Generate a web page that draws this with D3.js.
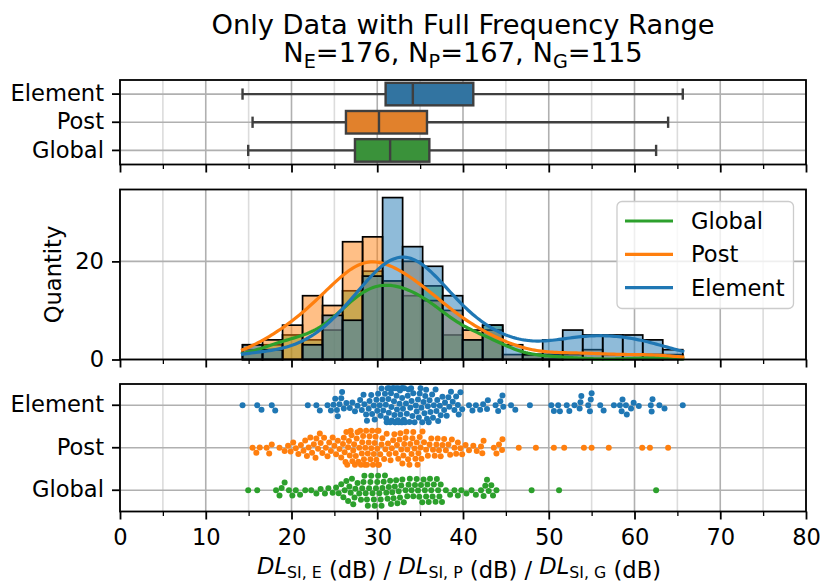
<!DOCTYPE html>
<html><head><meta charset="utf-8">
<script src="https://cdn.jsdelivr.net/npm/d3@7"></script>
<style>
body{margin:0;background:#fff}
svg{display:block}
text{font-family:"DejaVu Sans",sans-serif;fill:#000}
</style>
</head><body>
<svg id="c" width="823" height="583"></svg>
<script>
// ---------------- data ----------------
const categories = ["Element", "Post", "Global"];
const legendOrder = ["Global", "Post", "Element"];
const elementValues = [
  14.29, 16.0, 16.5,
  17.7, 18.1,
  21.9, 22.9, 23.3,
  24.2, 24.6, 24.9, 25.1, 25.3, 25.4, 25.6, 25.8, 25.9,
  26.1, 26.4, 26.8, 27.1, 27.4, 27.7, 28.0, 28.2,
  28.4, 28.5, 28.7, 28.8, 29.0, 29.1, 29.3, 29.4, 29.6, 29.7, 29.9, 30.0, 30.1, 30.3, 30.4, 30.5, 30.6,
  30.7, 30.9, 31.0, 31.05, 31.1, 31.2, 31.3, 31.35, 31.4, 31.5, 31.6, 31.65, 31.7, 31.8, 31.9, 31.95,
  32.0, 32.05, 32.1, 32.2, 32.25, 32.3, 32.4, 32.45, 32.5, 32.6, 32.65, 32.7, 32.8, 32.85, 32.9, 32.93, 32.95,
  33.0, 33.1, 33.15, 33.25, 33.35, 33.45, 33.55, 33.65, 33.75, 33.85, 33.95,
  34.0, 34.1, 34.2, 34.35, 34.5, 34.6, 34.75, 34.85, 34.95, 35.05, 35.15, 35.25,
  35.4, 35.5, 35.6, 35.7, 35.8, 35.9, 36.0, 36.1, 36.2, 36.4, 36.5, 36.6, 36.8, 36.9, 37.0, 37.1, 37.3, 37.4, 37.6,
  37.8, 37.9, 38.1, 38.3, 38.4, 38.6, 38.8, 39.0, 39.2, 39.4, 39.5, 39.7, 39.9,
  40.7, 41.1, 41.5, 42.0,
  42.35, 42.8, 42.9, 43.8, 44.1, 44.35, 44.6,
  44.7, 45.6, 46.1,
  47.8,
  50.3, 50.6, 51.1, 51.3,
  52.1, 52.4, 53.0, 53.6, 53.7, 53.8,
  54.6, 54.8, 54.9, 55.0, 56.0,
  56.4, 57.6, 58.3, 58.5, 58.6,
  59.0, 59.1, 59.6, 59.9, 60.5,
  61.9, 62.0, 62.1, 62.9,
  63.5, 65.63
];
const postValues = [
  15.46, 15.9, 16.3,
  17.1, 17.4, 17.7, 18.6,
  19.2, 19.6, 19.9, 20.2, 20.5, 20.8, 21.1,
  21.4, 21.6, 21.8, 22.0, 22.2, 22.4, 22.6, 22.8, 22.9, 23.1, 23.3, 23.4, 23.6,
  23.8, 24.0, 24.2, 24.4, 24.6, 24.8, 25.0, 25.2, 25.4, 25.6, 25.8,
  26.0, 26.1, 26.2, 26.3, 26.4, 26.5, 26.6, 26.7, 26.8, 26.9, 27.0, 27.1, 27.2, 27.3, 27.4, 27.5, 27.6, 27.7, 27.8, 27.9, 28.0, 28.1, 28.2, 28.25,
  28.35, 28.45, 28.55, 28.6, 28.7, 28.8, 28.9, 29.0, 29.1, 29.2, 29.3, 29.4, 29.5, 29.6, 29.7, 29.8, 29.9, 30.0, 30.05, 30.1, 30.15, 30.2, 30.35, 30.5, 30.6,
  30.8, 30.95, 31.1, 31.25, 31.4, 31.55, 31.7, 31.85, 32.0, 32.15, 32.3, 32.45, 32.6, 32.7, 32.8, 32.93,
  33.05, 33.15, 33.3, 33.4, 33.5, 33.6, 33.75, 33.85, 34.0, 34.1, 34.2, 34.35, 34.45, 34.6, 34.7, 34.8, 34.95, 35.05, 35.15, 35.28,
  35.45, 35.7, 35.9, 36.1, 36.3, 36.5, 36.7, 36.9, 37.05, 37.2, 37.4, 37.6,
  37.8, 38.0, 38.3, 38.5, 38.7, 39.0, 39.2, 39.4, 39.7, 39.9,
  40.3, 40.7, 41.2, 41.6, 42.1, 42.25,
  42.4, 43.6, 43.9, 44.2, 44.55, 44.6,
  46.5, 48.5, 50.6, 51.8, 54.1, 55.0, 57.0, 60.9, 61.8, 63.92
];
const globalValues = [
  14.95, 16.0,
  18.2, 18.6, 18.85,
  19.2, 19.7, 20.1, 20.5, 21.0,
  21.6, 22.3, 22.9, 23.4,
  23.9, 24.3, 24.8, 25.2, 25.5, 25.8,
  26.05, 26.2, 26.4, 26.6, 26.75, 26.9, 27.05, 27.2, 27.35, 27.45, 27.7, 27.9, 28.1, 28.25,
  28.4, 28.5, 28.65, 28.8, 28.9, 29.05, 29.2, 29.3, 29.45, 29.6, 29.7, 29.85, 30.0, 30.1, 30.25, 30.4, 30.5, 30.6,
  30.75, 30.9, 31.05, 31.2, 31.35, 31.5, 31.6, 31.75, 31.9, 32.05, 32.2, 32.35, 32.5, 32.65, 32.8, 32.93,
  33.1, 33.3, 33.5, 33.65, 33.8, 34.0, 34.2, 34.4, 34.6, 34.75, 34.9, 35.1, 35.25,
  35.4, 35.55, 35.7, 35.85, 36.0, 36.15, 36.3, 36.45, 36.6, 36.8, 36.95, 37.1, 37.25, 37.4, 37.55,
  38.0, 38.5, 39.0, 39.4, 39.8,
  40.4, 41.0, 41.5, 42.1,
  42.4, 42.6, 42.8, 43.0, 43.3, 43.5, 43.9,
  48.0, 51.2, 62.52
];
const xMajorTicks = [0, 10, 20, 30, 40, 50, 60, 70, 80];
const xMinorTicks = [5, 15, 25, 35, 45, 55, 65, 75];
const countTicks = [0, 20];
const binCount = 22;

// ---------------- setup ----------------
const seriesValues = { Element: elementValues, Post: postValues, Global: globalValues };
const lineColor = { Element: "#1f77b4", Post: "#ff7f0e", Global: "#2ca02c" };
const boxColor = { Element: "#3274a1", Post: "#e1812c", Global: "#3a923a" };
const FONT = 22.6;

const svg = d3.select("#c");
const x = d3.scaleLinear().domain([0, 80]).range([120, 806]);
const P1 = { top: 80, bottom: 164.5 };
const P2 = { top: 189.5, bottom: 359.5 };
const P3 = { top: 384, bottom: 511.5 };

function vGrid(p) {
  const g = svg.append("g");
  g.selectAll("line.mn").data(xMinorTicks).join("line").attr("class", "mn")
    .attr("x1", d => x(d)).attr("x2", d => x(d)).attr("y1", p.top).attr("y2", p.bottom)
    .attr("stroke", "#dcdcdc").attr("stroke-width", 1.6);
  g.selectAll("line.mj").data(xMajorTicks).join("line").attr("class", "mj")
    .attr("x1", d => x(d)).attr("x2", d => x(d)).attr("y1", p.top).attr("y2", p.bottom)
    .attr("stroke", "#b0b0b0").attr("stroke-width", 1.6);
}
function hGrid(ys) {
  svg.append("g").selectAll("line").data(ys).join("line")
    .attr("x1", x(0)).attr("x2", x(80)).attr("y1", d => d).attr("y2", d => d)
    .attr("stroke", "#b0b0b0").attr("stroke-width", 1.6);
}
function styleAxis(g, w) {
  g.attr("font-size", FONT).attr("font-family", "DejaVu Sans, sans-serif").attr("color", "#000");
  g.select(".domain").remove();
  g.selectAll(".tick line").attr("stroke-width", w);
}
function xAxes(p, labels) {
  const mn = svg.append("g").attr("transform", `translate(0,${p.bottom})`)
    .call(d3.axisBottom(x).tickValues(xMinorTicks).tickSize(4.5).tickFormat(""));
  styleAxis(mn, 1.3);
  const mj = svg.append("g").attr("transform", `translate(0,${p.bottom})`)
    .call(d3.axisBottom(x).tickValues(xMajorTicks).tickSize(8).tickPadding(9)
      .tickFormat(labels ? d3.format("d") : ""));
  styleAxis(mj, 1.8);
}
function frame(p) {
  svg.append("rect").attr("x", x(0)).attr("y", p.top).attr("width", x(80) - x(0))
    .attr("height", p.bottom - p.top).attr("fill", "none").attr("stroke", "#000").attr("stroke-width", 1.8);
}

// ---------------- title ----------------
svg.append("text").attr("x", 463).attr("y", 34).attr("text-anchor", "middle").attr("font-size", 27.3)
  .text("Only Data with Full Frequency Range");
const t2 = svg.append("text").attr("x", 463).attr("y", 62).attr("text-anchor", "middle").attr("font-size", 27.3);
[["N", ""], ["E", "s"], ["=176, N", ""], ["P", "s"], ["=167, N", ""], ["G", "s"], ["=115", ""]].forEach(([s, k], i, arr) => {
  const prevSub = i > 0 && arr[i - 1][1] === "s";
  const ts = t2.append("tspan").text(s);
  if (k === "s") ts.attr("font-size", 19.2).attr("dy", 6);
  else if (prevSub) ts.attr("dy", -6);
});

// ---------------- panel 1: box plot ----------------
const yBox = d3.scaleBand().domain(categories).range([P1.top, P1.bottom]);
const bw1 = yBox.bandwidth();
vGrid(P1);
hGrid(categories.map(c => yBox(c) + bw1 / 2));
const boxStats = categories.map(c => {
  const v = seriesValues[c].slice().sort(d3.ascending);
  return { c, min: v[0], q1: d3.quantile(v, 0.25), med: d3.quantile(v, 0.5), q3: d3.quantile(v, 0.75), max: v[v.length - 1] };
});
const bg = svg.append("g").selectAll("g").data(boxStats).join("g");
const GREY = "#3f3f3f";
bg.each(function (d) {
  const g = d3.select(this), cy = yBox(d.c) + bw1 / 2, hb = bw1 * 0.4, hc = bw1 * 0.2;
  g.append("line").attr("x1", x(d.min)).attr("x2", x(d.q1)).attr("y1", cy).attr("y2", cy).attr("stroke", GREY).attr("stroke-width", 2.4);
  g.append("line").attr("x1", x(d.q3)).attr("x2", x(d.max)).attr("y1", cy).attr("y2", cy).attr("stroke", GREY).attr("stroke-width", 2.4);
  g.append("line").attr("x1", x(d.min)).attr("x2", x(d.min)).attr("y1", cy - hc).attr("y2", cy + hc).attr("stroke", GREY).attr("stroke-width", 2.4);
  g.append("line").attr("x1", x(d.max)).attr("x2", x(d.max)).attr("y1", cy - hc).attr("y2", cy + hc).attr("stroke", GREY).attr("stroke-width", 2.4);
  g.append("rect").attr("x", x(d.q1)).attr("y", cy - hb).attr("width", x(d.q3) - x(d.q1)).attr("height", 2 * hb)
    .attr("fill", boxColor[d.c]).attr("stroke", GREY).attr("stroke-width", 2.4);
  g.append("line").attr("x1", x(d.med)).attr("x2", x(d.med)).attr("y1", cy - hb).attr("y2", cy + hb).attr("stroke", GREY).attr("stroke-width", 2.4);
});
xAxes(P1, false);
const ya1 = svg.append("g").attr("transform", `translate(${x(0)},0)`).call(d3.axisLeft(yBox).tickSize(8).tickPadding(8));
styleAxis(ya1, 1.8);
frame(P1);

// ---------------- panel 2: histogram + KDE ----------------
const allValues = elementValues.concat(postValues, globalValues);
const [vmin, vmax] = d3.extent(allValues);
const binW = (vmax - vmin) / binCount;
const thresholds = d3.range(1, binCount).map(i => vmin + i * binW);
const binner = d3.bin().domain([vmin, vmax]).thresholds(thresholds);
const hists = {};
categories.forEach(c => hists[c] = binner(seriesValues[c]));
const maxCount = d3.max(categories, c => d3.max(hists[c], b => b.length));
const yCount = d3.scaleLinear().domain([0, maxCount * 1.05]).range([P2.bottom, P2.top]);

vGrid(P2);
hGrid(countTicks.map(yCount));
legendOrder.forEach(c => {
  svg.append("g").selectAll("rect").data(hists[c].filter(b => b.length > 0)).join("rect")
    .attr("x", b => x(b.x0)).attr("width", b => x(b.x1) - x(b.x0))
    .attr("y", b => yCount(b.length)).attr("height", b => yCount(0) - yCount(b.length))
    .attr("fill", lineColor[c]).attr("fill-opacity", 0.5)
    .attr("stroke", "#000").attr("stroke-width", 1.7);
});
function kde(vals) {
  const n = vals.length, h = d3.deviation(vals) * Math.pow(n, -0.2);
  const grid = d3.range(200).map(i => vmin + (vmax - vmin) * i / 199);
  return grid.map(gx => {
    let s = 0;
    for (const v of vals) { const z = (gx - v) / h; s += Math.exp(-0.5 * z * z); }
    return [gx, s / (n * h * Math.sqrt(2 * Math.PI)) * n * binW];
  });
}
const line = d3.line().x(d => x(d[0])).y(d => yCount(d[1])).curve(d3.curveLinear);
legendOrder.forEach(c => {
  svg.append("path").datum(kde(seriesValues[c])).attr("d", line)
    .attr("fill", "none").attr("stroke", lineColor[c]).attr("stroke-width", 3.2).attr("stroke-linecap", "square");
});
xAxes(P2, false);
const ya2 = svg.append("g").attr("transform", `translate(${x(0)},0)`)
  .call(d3.axisLeft(yCount).tickValues(countTicks).tickSize(8).tickPadding(8).tickFormat(d3.format("d")));
styleAxis(ya2, 1.8);
frame(P2);
svg.append("text").attr("transform", `translate(53,${(P2.top + P2.bottom) / 2}) rotate(-90)`)
  .attr("text-anchor", "middle").attr("dominant-baseline", "central").attr("font-size", FONT).text("Quantity");

// legend
const lg = svg.append("g");
lg.append("rect").attr("x", 617).attr("y", 201.5).attr("width", 176.5).attr("height", 107).attr("rx", 5)
  .attr("fill", "#fff").attr("fill-opacity", 0.8).attr("stroke", "#cccccc").attr("stroke-width", 1.3);
legendOrder.forEach((c, i) => {
  const cy = 221 + i * 33.3;
  lg.append("line").attr("x1", 625).attr("x2", 673).attr("y1", cy).attr("y2", cy)
    .attr("stroke", lineColor[c]).attr("stroke-width", 3.2);
  lg.append("text").attr("x", 691).attr("y", cy).attr("dominant-baseline", "central").attr("font-size", FONT).text(c);
});

// ---------------- panel 3: swarm ----------------
const ySw = d3.scaleBand().domain(categories).range([P3.top, P3.bottom]);
const bw3 = ySw.bandwidth();
vGrid(P3);
hGrid(categories.map(c => ySw(c) + bw3 / 2));
const R = 3.0;
function beeswarm(vals, cy, half) {
  const pts = vals.slice().sort(d3.ascending).map(v => ({ v, px: x(v), py: cy }));
  const placed = [];
  for (const p of pts) {
    const nb = placed.filter(q => p.px - q.px < 2 * R);
    const cands = [cy];
    nb.forEach(q => {
      const dx = p.px - q.px;
      const dy = Math.sqrt(Math.max(0, 4 * R * R - dx * dx)) * 1.05;
      cands.push(q.py + dy, q.py - dy);
    });
    cands.sort((a, b) => Math.abs(a - cy) - Math.abs(b - cy));
    for (const c of cands) {
      if (nb.every(q => (p.px - q.px) ** 2 + (c - q.py) ** 2 >= 4 * R * R * 0.999)) { p.py = c; break; }
    }
    placed.push(p);
  }
  placed.forEach(p => { p.py = Math.max(cy - half, Math.min(cy + half, p.py)); });
  return placed;
}
categories.forEach(c => {
  const cy = ySw(c) + bw3 / 2;
  const pts = beeswarm(seriesValues[c], cy, bw3 * 0.4);
  svg.append("g").selectAll("circle").data(pts).join("circle")
    .attr("cx", d => d.px).attr("cy", d => d.py).attr("r", R).attr("fill", lineColor[c]);
});
xAxes(P3, true);
const ya3 = svg.append("g").attr("transform", `translate(${x(0)},0)`).call(d3.axisLeft(ySw).tickSize(8).tickPadding(8));
styleAxis(ya3, 1.8);
frame(P3);

// x label
const xl = svg.append("text").attr("x", 459).attr("y", 573.5).attr("text-anchor", "middle").attr("font-size", FONT);
[["E"], ["P"], ["G"]].forEach(([s], i) => {
  xl.append("tspan").attr("font-style", "italic").attr("dy", i === 0 ? 0 : -4).text("DL");
  xl.append("tspan").attr("font-size", 15.8).attr("dy", 4).text("SI, " + s);
  xl.append("tspan").attr("font-size", FONT).attr("dy", 0).text(i < 2 ? " (dB) / " : " (dB)");
});
</script>
</body></html>
